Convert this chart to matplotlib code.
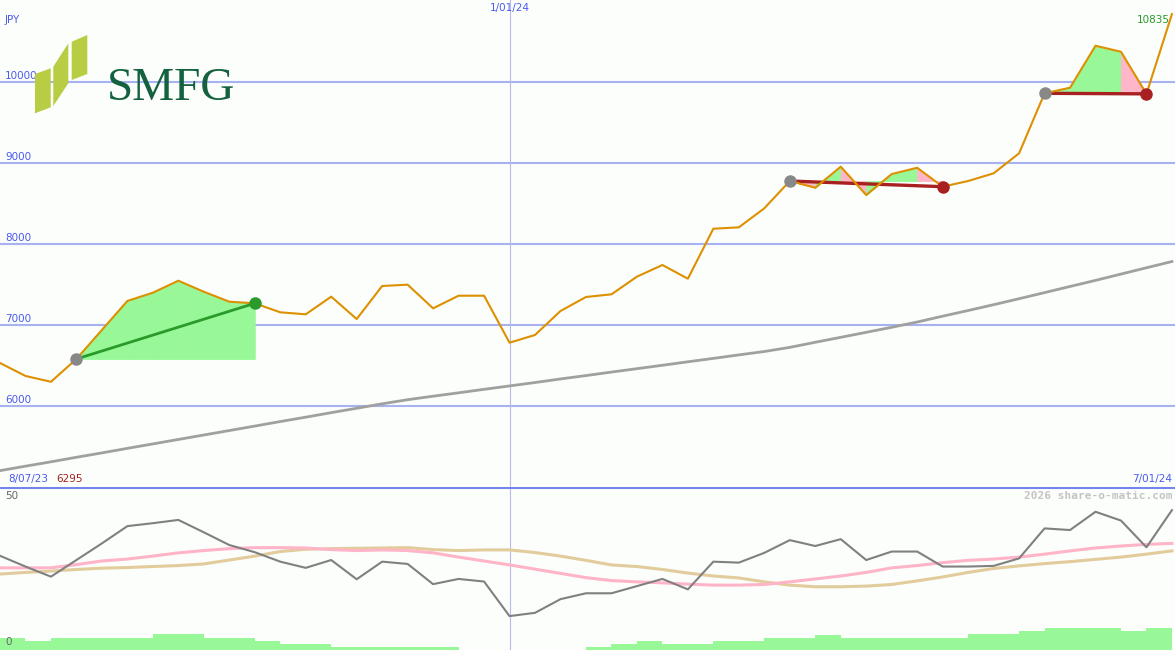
import matplotlib
matplotlib.use('Agg')
import matplotlib.pyplot as plt
from matplotlib.patches import Polygon
import numpy as np

# weekly closes, 8/07/23 .. 7/01/24 (JPY)
price = [6527, 6367, 6295, 6577, 6935, 7293, 7395, 7543, 7407, 7284,
         7264, 7153, 7128, 7346, 7070, 7478, 7494, 7202, 7358, 7358,
         6778, 6873, 7169, 7342, 7375, 7593, 7737, 7568, 8185, 8202,
         8437, 8774, 8691, 8951, 8601, 8860, 8938, 8704, 8774, 8869,
         9116, 9857, 9926, 10444, 10370, 9850, 10835]
ma_long = [5198, 5253, 5307, 5363, 5417, 5473, 5528, 5583, 5638, 5693,
           5748, 5804, 5858, 5914, 5968, 6023, 6074, 6117, 6159, 6202,
           6244, 6286, 6330, 6372, 6415, 6457, 6499, 6542, 6584, 6627,
           6669, 6720, 6783, 6844, 6906, 6968, 7033, 7105, 7175, 7247,
           7321, 7396, 7472, 7547, 7625, 7703, 7780]
osc = [28.9, 25.6, 22.5, 27.6, 32.7, 38.0, 38.9, 39.9, 36.1, 32.2,
       30.0, 27.1, 25.2, 27.6, 21.7, 27.1, 26.4, 20.2, 21.8, 21.0,
       10.4, 11.4, 15.6, 17.4, 17.4, 19.6, 21.8, 18.6, 27.1, 26.8,
       29.8, 33.7, 31.9, 34.0, 27.6, 30.2, 30.2, 25.6, 25.6, 25.8,
       28.1, 37.3, 36.8, 42.4, 39.7, 31.5, 42.9]
osc_fast = [25.2, 25.2, 25.2, 26.2, 27.3, 27.9, 28.8, 29.8, 30.5, 31.1,
            31.4, 31.4, 31.3, 30.8, 30.5, 30.7, 30.5, 29.8, 28.5, 27.3,
            26.1, 24.8, 23.5, 22.2, 21.3, 20.9, 20.6, 20.2, 19.9, 19.9,
            20.1, 20.9, 21.8, 22.7, 23.8, 25.2, 25.9, 26.8, 27.5, 27.9,
            28.5, 29.4, 30.4, 31.3, 31.9, 32.4, 32.7]
osc_slow = [23.3, 23.8, 24.2, 24.7, 25.1, 25.3, 25.6, 25.9, 26.4, 27.6,
            28.8, 30.2, 30.9, 31.1, 31.2, 31.3, 31.4, 30.8, 30.5, 30.7,
            30.7, 29.9, 28.8, 27.5, 26.1, 25.6, 24.7, 23.6, 22.7, 22.1,
            20.9, 19.9, 19.4, 19.4, 19.6, 20.1, 21.2, 22.4, 23.8, 25.0,
            25.8, 26.5, 27.1, 27.8, 28.5, 29.4, 30.4]
vol = [3.8, 2.8, 3.8, 3.8, 3.8, 3.8, 4.8, 4.8, 3.8, 3.8,
       2.8, 1.8, 1.8, 1.0, 1.0, 1.0, 1.0, 1.0, 0, 0,
       0, 0, 0, 1.0, 1.8, 2.8, 1.8, 1.8, 2.8, 2.8,
       3.8, 3.8, 4.6, 3.8, 3.8, 3.8, 3.8, 3.8, 4.8, 4.8,
       5.9, 6.8, 6.8, 6.8, 5.9, 6.8]
trades = [(3, 10), (31, 37), (41, 45)]   # (buy week, sell week)
grid_levels = [6000, 7000, 8000, 9000, 10000]
start_label, mid_label, end_label = '8/07/23', '1/01/24', '7/01/24'
mid_idx = 20

BG = '#fbfefb'
BLUE_TXT = '#4a5af0'
GRIDC = '#a8b2f0'
ORANGE = '#dd9000'
GREEN = '#2a9a2a'
RED = '#a82020'
FILL_G = '#98f898'
FILL_R = '#ffb6c8'

x = np.arange(len(price))
xmax = 46.12

fig = plt.figure(figsize=(11.75, 6.5), dpi=100)
fig.patch.set_facecolor(BG)
ax = fig.add_axes([0, 163 / 650, 1, 487 / 650])
bx = fig.add_axes([0, 0, 1, 163 / 650])
for a in (ax, bx):
    a.set_facecolor(BG)
    a.set_xlim(0, xmax)
    a.set_xticks([])
    a.set_yticks([])
    for s in a.spines.values():
        s.set_visible(False)
ax.set_ylim(4996, 11009)
bx.set_ylim(0, 50)

# ── price panel ──
for lv in grid_levels:
    ax.axhline(lv, color=GRIDC, lw=1.5, zorder=1)
    ax.annotate(f'{lv}', xy=(0, lv), xycoords=('axes fraction', 'data'),
                xytext=(5, 1), textcoords='offset pixels', fontsize=7.5,
                color=BLUE_TXT, va='bottom', ha='left')
ax.axvline(mid_idx, color='#b4bce8', lw=0.8, zorder=1)
bx.axvline(mid_idx, color='#b4bce8', lw=0.8, zorder=1)

ax.plot(x, ma_long, color='#a0a0a0', lw=2, zorder=2)

# trade zones: fill vs entry price, coloured per week
for b, s in trades:
    entry = price[b]
    for k in range(b, s):
        c = FILL_G if price[k + 1] >= entry else FILL_R
        ax.fill_between(x[k:k + 2], entry, price[k:k + 2], facecolor=c,
                        edgecolor=c, lw=0.6, zorder=2)

ax.plot(x, price, color=ORANGE, lw=1.5, zorder=4)

for b, s in trades:
    c = GREEN if price[s] > price[b] else RED
    ax.plot([b, s], [price[b], price[s]], color=c, lw=2 if c == GREEN else 2.4, zorder=3)
    ax.plot(b, price[b], 'o', color='#888888', ms=9, mec='none', zorder=5)
    ax.plot(s, price[s], 'o', color=c, ms=9, mec='none', zorder=5)

ax.text(5 / 1175, 1 - 20 / 487, 'JPY', transform=ax.transAxes, fontsize=7.5,
        color=BLUE_TXT, va='center', ha='left')
ax.text(mid_idx, 1 - 8 / 487, mid_label, transform=ax.get_xaxis_transform(),
        fontsize=7.5, color=BLUE_TXT, va='center', ha='center')
ax.text(1170 / 1175, 1 - 20 / 487, f'{price[-1]}', transform=ax.transAxes,
        fontsize=7.5, color=GREEN, va='center', ha='right')
ax.text(8 / 1175, 8 / 487, start_label, transform=ax.transAxes, fontsize=7.5,
        color=BLUE_TXT, va='center', ha='left')
ax.text(56 / 1175, 8 / 487, f'{min(price)}', transform=ax.transAxes, fontsize=7.5,
        color=RED, va='center', ha='left')
ax.text(1172 / 1175, 8 / 487, end_label, transform=ax.transAxes, fontsize=7.5,
        color=BLUE_TXT, va='center', ha='right')

# logo
logo = [[(35, 74), (50.7, 68.3), (50.7, 107.3), (35, 113.3)],
        [(53.3, 66.7), (68.3, 43.3), (68.3, 83.3), (53.3, 106)],
        [(71.7, 41.7), (87.3, 35), (87.3, 74), (71.7, 80)]]
for poly in logo:
    pts = [(px / 1175, 1 - py / 487) for px, py in poly]
    ax.add_patch(Polygon(pts, closed=True, transform=ax.transAxes,
                         facecolor='#b8cc44', edgecolor='none', zorder=6))
ax.text(107 / 1175, 1 - 100 / 487, 'SMFG', transform=ax.transAxes,
        fontsize=34, family='Liberation Serif', color='#14613f',
        va='baseline', ha='left', zorder=6)

# ── indicator panel ──
bx.stairs(vol, np.arange(len(vol) + 1), baseline=0, fill=True, color=FILL_G, zorder=1)
bx.plot(x, osc_slow, color='#e2cc9c', lw=2.2, zorder=2)
bx.plot(x, osc_fast, color='#ffb4c8', lw=2.2, zorder=2)
bx.plot(x, osc, color='#808080', lw=1.5, zorder=3)
bx.axhline(50, color='#7484ea', lw=2.2, zorder=4)

bx.text(5 / 1175, 1 - 9 / 163, '50', transform=bx.transAxes, fontsize=7.5,
        color='#666666', va='center', ha='left')
bx.text(5 / 1175, 8 / 163, '0', transform=bx.transAxes, fontsize=7.5,
        color='#666666', va='center', ha='left')
bx.text(1172 / 1175, 1 - 9 / 163, '2026 share-o-matic.com', transform=bx.transAxes,
        fontsize=8, family='DejaVu Sans Mono', fontweight='bold', color='#c4c4c4',
        va='center', ha='right')

fig.savefig('out.png', dpi=100, facecolor=fig.get_facecolor())
